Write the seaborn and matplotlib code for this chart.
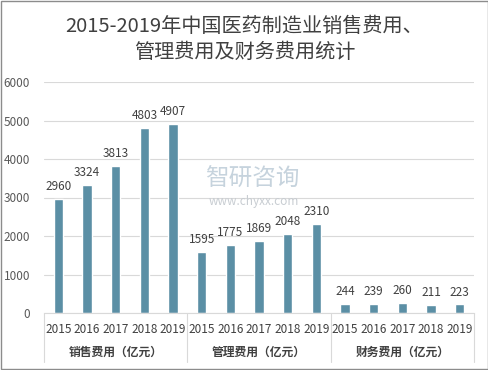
import pandas as pd
import matplotlib
matplotlib.use("Agg")
import matplotlib.pyplot as plt
import matplotlib.transforms as mtransforms
import seaborn as sns

GROUPS = ["销售费用（亿元）", "管理费用（亿元）", "财务费用（亿元）"]
YEARS = ["2015", "2016", "2017", "2018", "2019"]
SALES = [2960, 3324, 3813, 4803, 4907]
ADMIN = [1595, 1775, 1869, 2048, 2310]
FINANCE = [244, 239, 260, 211, 223]
TITLE_1 = "2015-2019年中国医药制造业销售费用、"
TITLE_2 = "管理费用及财务费用统计"

BAR_COLOR = "#5b8fa5"

sns.set_style("white")
plt.rcParams['font.family'] = ['Noto Sans CJK SC', 'DejaVu Sans']

rows = []
for g, vals in zip(GROUPS, [SALES, ADMIN, FINANCE]):
    for y, v in zip(YEARS, vals):
        rows.append({"group": g, "year": y, "key": g + y, "value": v})
df = pd.DataFrame(rows)

fig = plt.figure(figsize=(4.89, 3.70), dpi=100)
ax = fig.add_axes([44 / 489, 57 / 370, 430 / 489, 231 / 370])

sns.barplot(data=df, x="key", y="value", color=BAR_COLOR, width=0.32,
            saturation=1, ax=ax)

ax.set_ylim(0, 6000)
ax.set_yticks(range(0, 6001, 1000))
ax.yaxis.grid(True, color="#d9d9d9", linewidth=0.8)
ax.set_axisbelow(True)
for s in ["top", "right", "left"]:
    ax.spines[s].set_visible(False)
ax.spines["bottom"].set_color("#d9d9d9")
ax.tick_params(axis="y", length=0, labelsize=8.5, labelcolor="#595959", pad=10)
ax.tick_params(axis="x", length=0, labelsize=8.5, labelcolor="#404040", pad=7)
ax.set_xticks(range(len(df)))
ax.set_xticklabels(df["year"])
ax.set_xlabel("")
ax.set_ylabel("")

for i, v in enumerate(df["value"]):
    ax.text(i, v + 150, str(v), ha="center", va="bottom", fontsize=8.5, color="#404040")

# group separators and labels below the axis
trans = mtransforms.blended_transform_factory(ax.transData, ax.transAxes)
n = len(YEARS)
for k in range(len(GROUPS) + 1):
    xpos = k * n - 0.5
    ax.plot([xpos, xpos], [0, -49 / 231], transform=trans, color="#d9d9d9",
            linewidth=0.8, clip_on=False)
for k, g in enumerate(GROUPS):
    ax.text(k * n + (n - 1) / 2, -39 / 231, g, transform=trans, ha="center",
            va="center", fontsize=8.5, color="#404040", fontweight="bold")
ax.set_xlim(-0.5, len(df) - 0.5)

# watermark
fig.text(0.515, 0.515, "智研咨询", fontsize=17, color="#c6d3dd", ha="center", va="center")
fig.text(0.52, 0.455, "www.chyxx.com", fontsize=8.5, color="#c8cdd2", ha="center", va="center")

fig.text(0.5, 1 - 27 / 370, TITLE_1, ha="center", va="center",
         fontsize=14.5, color="#404040")
fig.text(0.5, 1 - 52 / 370, TITLE_2, ha="center", va="center",
         fontsize=14.5, color="#404040")

# outer border
fig.patches.append(plt.Rectangle((0.002, 0.003), 0.996, 0.994, transform=fig.transFigure,
                                 fill=False, edgecolor="#8c8c8c", linewidth=1))

fig.savefig("out.png", dpi=100)
